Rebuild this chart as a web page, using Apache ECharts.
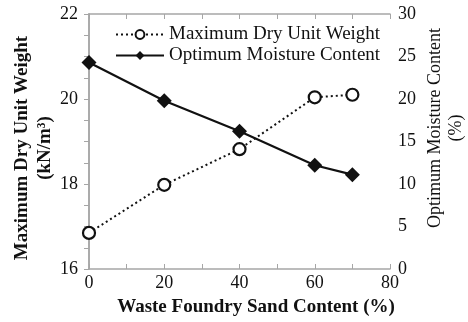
<!DOCTYPE html>
<html>
<head>
<meta charset="utf-8">
<script src="https://cdn.jsdelivr.net/npm/echarts@6/dist/echarts.min.js"></script>
<style>
html, body { margin: 0; padding: 0; background: #fff; }
#chart { width: 468px; height: 322px; }
</style>
</head>
<body>
<div id="chart"></div>
<script>
// data
const sandContent = [0, 20, 40, 60, 70];
const dryUnitWeight = [16.85, 17.98, 18.82, 20.04, 20.1];
const moistureContent = [24.3, 19.8, 16.2, 12.2, 11.1];

const font = 'Liberation Serif, Times New Roman, serif';
const axisGray = '#a6a6a6';

const chart = echarts.init(document.getElementById('chart'));

const pairs = (xs, ys) => xs.map((x, i) => [x, ys[i]]);

const option = {
    animation: false,
    textStyle: { fontFamily: font, color: '#111' },
    grid: { left: 89, right: 78, top: 14, bottom: 53, outerBoundsMode: 'none' },
    legend: {
        orient: 'vertical',
        left: 110,
        top: 20,
        itemWidth: 48,
        itemHeight: 11,
        itemGap: 2,
        textStyle: { fontFamily: font, fontSize: 19, color: '#111' },
        data: ['Maximum Dry Unit Weight', 'Optimum Moisture Content']
    },
    xAxis: [{
        type: 'value',
        min: 0,
        max: 80,
        interval: 10,
        name: 'Waste Foundry Sand Content (%)',
        nameLocation: 'middle',
        nameGap: 29,
        nameMoveOverlap: false,
        nameTextStyle: { fontFamily: font, fontSize: 19, fontWeight: 'bold', color: '#111', padding: [0, 0, 0, 33] },
        axisLine: { lineStyle: { color: axisGray, width: 1.5 } },
        axisTick: { inside: true, length: 5, lineStyle: { color: axisGray } },
        axisLabel: {
            fontFamily: font, fontSize: 18, color: '#111', margin: 5,
            formatter: v => (v % 20 === 0 ? String(v) : '')
        },
        splitLine: { show: false }
    }, {
        // top border with ticks
        type: 'value',
        position: 'top',
        min: 0,
        max: 80,
        interval: 10,
        axisLine: { show: true, lineStyle: { color: axisGray, width: 1.5 } },
        axisTick: { show: true, inside: true, length: 5, lineStyle: { color: axisGray } },
        axisLabel: { show: false },
        splitLine: { show: false }
    }],
    yAxis: [{
        type: 'value',
        min: 16,
        max: 22,
        interval: 0.5,
        name: 'Maximum Dry Unit Weight\n(kN/m³)',
        nameLocation: 'middle',
        nameGap: 32,
        nameMoveOverlap: false,
        nameRotate: 90,
        nameTextStyle: { fontFamily: font, fontSize: 19, fontWeight: 'bold', color: '#111', lineHeight: 23, padding: [0, 13, 0, 0] },
        axisLine: { show: true, lineStyle: { color: axisGray, width: 1.5 } },
        axisTick: { inside: false, length: 5, lineStyle: { color: axisGray } },
        axisLabel: {
            fontFamily: font, fontSize: 18, color: '#111', margin: 11,
            formatter: v => (v % 2 === 0 ? String(v) : '')
        },
        splitLine: { show: false }
    }, {
        type: 'value',
        position: 'right',
        min: 0,
        max: 30,
        interval: 5,
        name: 'Optimum Moisture Content\n(%)',
        nameLocation: 'middle',
        nameGap: 35,
        nameMoveOverlap: false,
        nameRotate: 90,
        nameTextStyle: { fontFamily: font, fontSize: 18, color: '#111', lineHeight: 21, padding: [0, 0, 0, 27] },
        axisLine: { show: true, lineStyle: { color: axisGray, width: 1.5 } },
        axisTick: { inside: true, length: 5, lineStyle: { color: axisGray } },
        axisLabel: { fontFamily: font, fontSize: 18, color: '#111', margin: 8 },
        splitLine: { show: false }
    }],
    series: [{
        name: 'Maximum Dry Unit Weight',
        type: 'line',
        xAxisIndex: 0,
        yAxisIndex: 0,
        data: pairs(sandContent, dryUnitWeight),
        symbol: 'circle',
        symbolSize: 12,
        lineStyle: { color: '#111', width: 2, type: [2, 3] },
        itemStyle: { color: '#fff', borderColor: '#111', borderWidth: 2.2 },
        z: 3
    }, {
        name: 'Optimum Moisture Content',
        type: 'line',
        xAxisIndex: 0,
        yAxisIndex: 1,
        data: pairs(sandContent, moistureContent),
        symbol: 'diamond',
        symbolSize: 15,
        lineStyle: { color: '#111', width: 2.2 },
        itemStyle: { color: '#111' },
        z: 2
    }]
};

chart.setOption(option);
</script>
</body>
</html>
